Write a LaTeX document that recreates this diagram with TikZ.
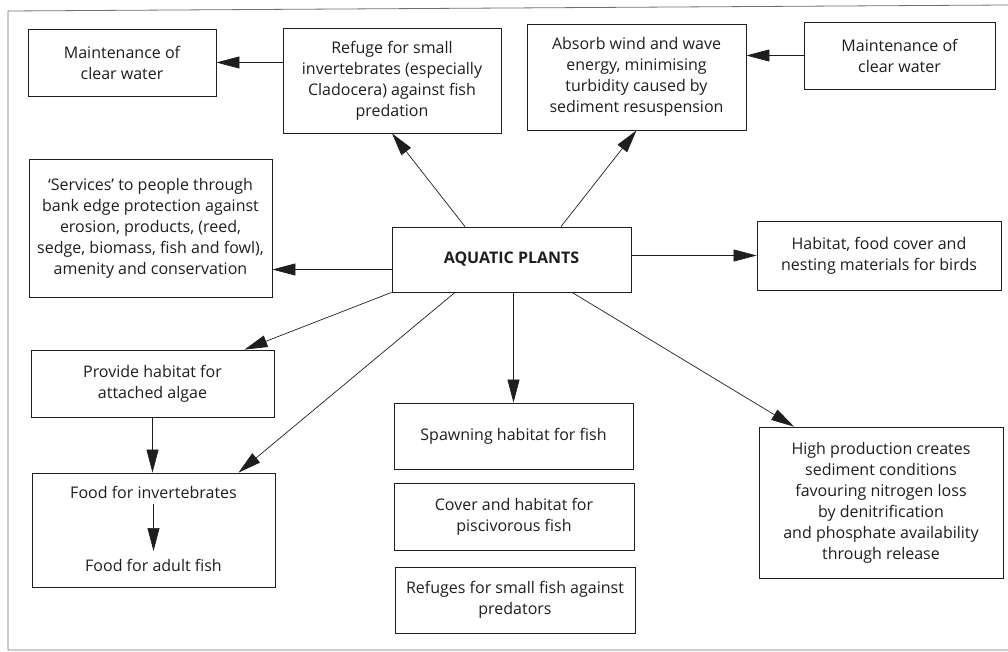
\documentclass[tikz,border=0pt]{standalone}
\usepackage{fontspec}
\setmainfont{Open Sans}
\usepackage{tikz}
\usetikzlibrary{arrows.meta, positioning}
\definecolor{ink}{HTML}{1E1E1E}
\definecolor{rim}{HTML}{707070}

\tikzset{
  box/.style={draw=ink, line width=0.8pt, align=center, inner sep=0pt, text=ink},
  link/.style={-{Triangle[length=23pt,width=12pt]}, draw=ink, line width=0.7pt},
}

\begin{document}
\begin{tikzpicture}[x=1pt, y=-1pt, font=\fontsize{16}{21}\selectfont]
  \useasboundingbox (0,0) rectangle (1008,652);

  % Rahmen
  \draw[rim, line width=0.8pt] (1008,5) -- (8,11) -- (8,650) -- (1008,650);

  % Mitte
  \node[box, minimum width=239pt, minimum height=65pt] (plants) at (511.5,259.5) {\textbf{AQUATIC PLANTS}};

  % obere Reihe
  \node[box, minimum width=188pt, minimum height=67pt] (clearL) at (122,62.5) {Maintenance of\\clear water};
  \node[box, minimum width=218pt, minimum height=105pt] (refuge) at (392,80.5) {Refuge for small\\invertebrates (especially\\Cladocera) against fish\\predation};
  \node[box, minimum width=219pt, minimum height=106pt] (absorb) at (636.5,77) {Absorb wind and wave\\energy, minimising\\turbidity caused by\\sediment resuspension};
  \node[box, minimum width=191pt, minimum height=67pt] (clearR) at (899.5,55.5) {Maintenance of\\clear water};

  % mittlere Reihe
  \node[box, minimum width=243pt, minimum height=138pt] (services) at (150.5,228) {`Services' to people through\\bank edge protection against\\erosion, products, (reed,\\sedge, biomass, fish and fowl),\\amenity and conservation};
  \node[box, minimum width=244pt, minimum height=69pt] (birds) at (879,255.5) {Habitat, food cover and\\nesting materials for birds};

  % links unten
  \node[box, minimum width=243pt, minimum height=67pt] (algae) at (152.5,383.5) {Provide habitat for\\attached algae};
  \node[box, minimum width=243pt, minimum height=114pt] (food) at (153.5,530) {};
  \node[text=ink, inner sep=0pt] (finv) at ([yshift=-20pt]food.north) {Food for invertebrates};
  \node[text=ink, inner sep=0pt] (fadult) at ([yshift=22pt]food.south) {Food for adult fish};

  % Fische
  \node[box, minimum width=239pt, minimum height=66pt] (spawn) at (513.5,436) {Spawning habitat for fish};
  \node[box, minimum width=240pt, minimum height=67pt] (cover) at (514,516.5) {Cover and habitat for\\piscivorous fish};
  \node[box, minimum width=240pt, minimum height=66pt] (refuges) at (515,600) {Refuges for small fish against\\predators};

  % rechts unten
  \node[box, minimum width=244pt, minimum height=151pt] (highprod) at (881,502.5) {High production creates\\sediment conditions\\favouring nitrogen loss\\by denitrification\\and phosphate availability\\through release};

  % Pfeile
  \coordinate (pw) at ([yshift=-10pt]plants.west);
  \draw[link] (refuge.west |- clearL.east) -- (clearL.east);
  \draw[link] (clearR.west) -- (clearR.west -| absorb.east);
  \draw[link] ([xshift=-46.5pt]plants.north) -- (refuge.south);
  \draw[link] ([xshift=49.5pt]plants.north) -- (absorb.south);
  \draw[link] (pw) -- (pw -| services.east);
  \draw[link] (plants.east |- birds.west) -- (birds.west);
  \draw[link] (plants.south west) -- ([xshift=92pt]algae.north);
  \draw[link] ([xshift=-56.5pt]plants.south) -- ([xshift=85pt]food.north);
  \draw[link] (plants.south -| spawn.north) -- (spawn.north);
  \draw[link] ([xshift=60.5pt]plants.south) -- ([xshift=-87pt]highprod.north);
  \draw[link] (algae.south) -- (algae.south |- food.north);
  \draw[link, shorten <=5pt, shorten >=8pt] (finv.south) -- (fadult.north);
\end{tikzpicture}
\end{document}
